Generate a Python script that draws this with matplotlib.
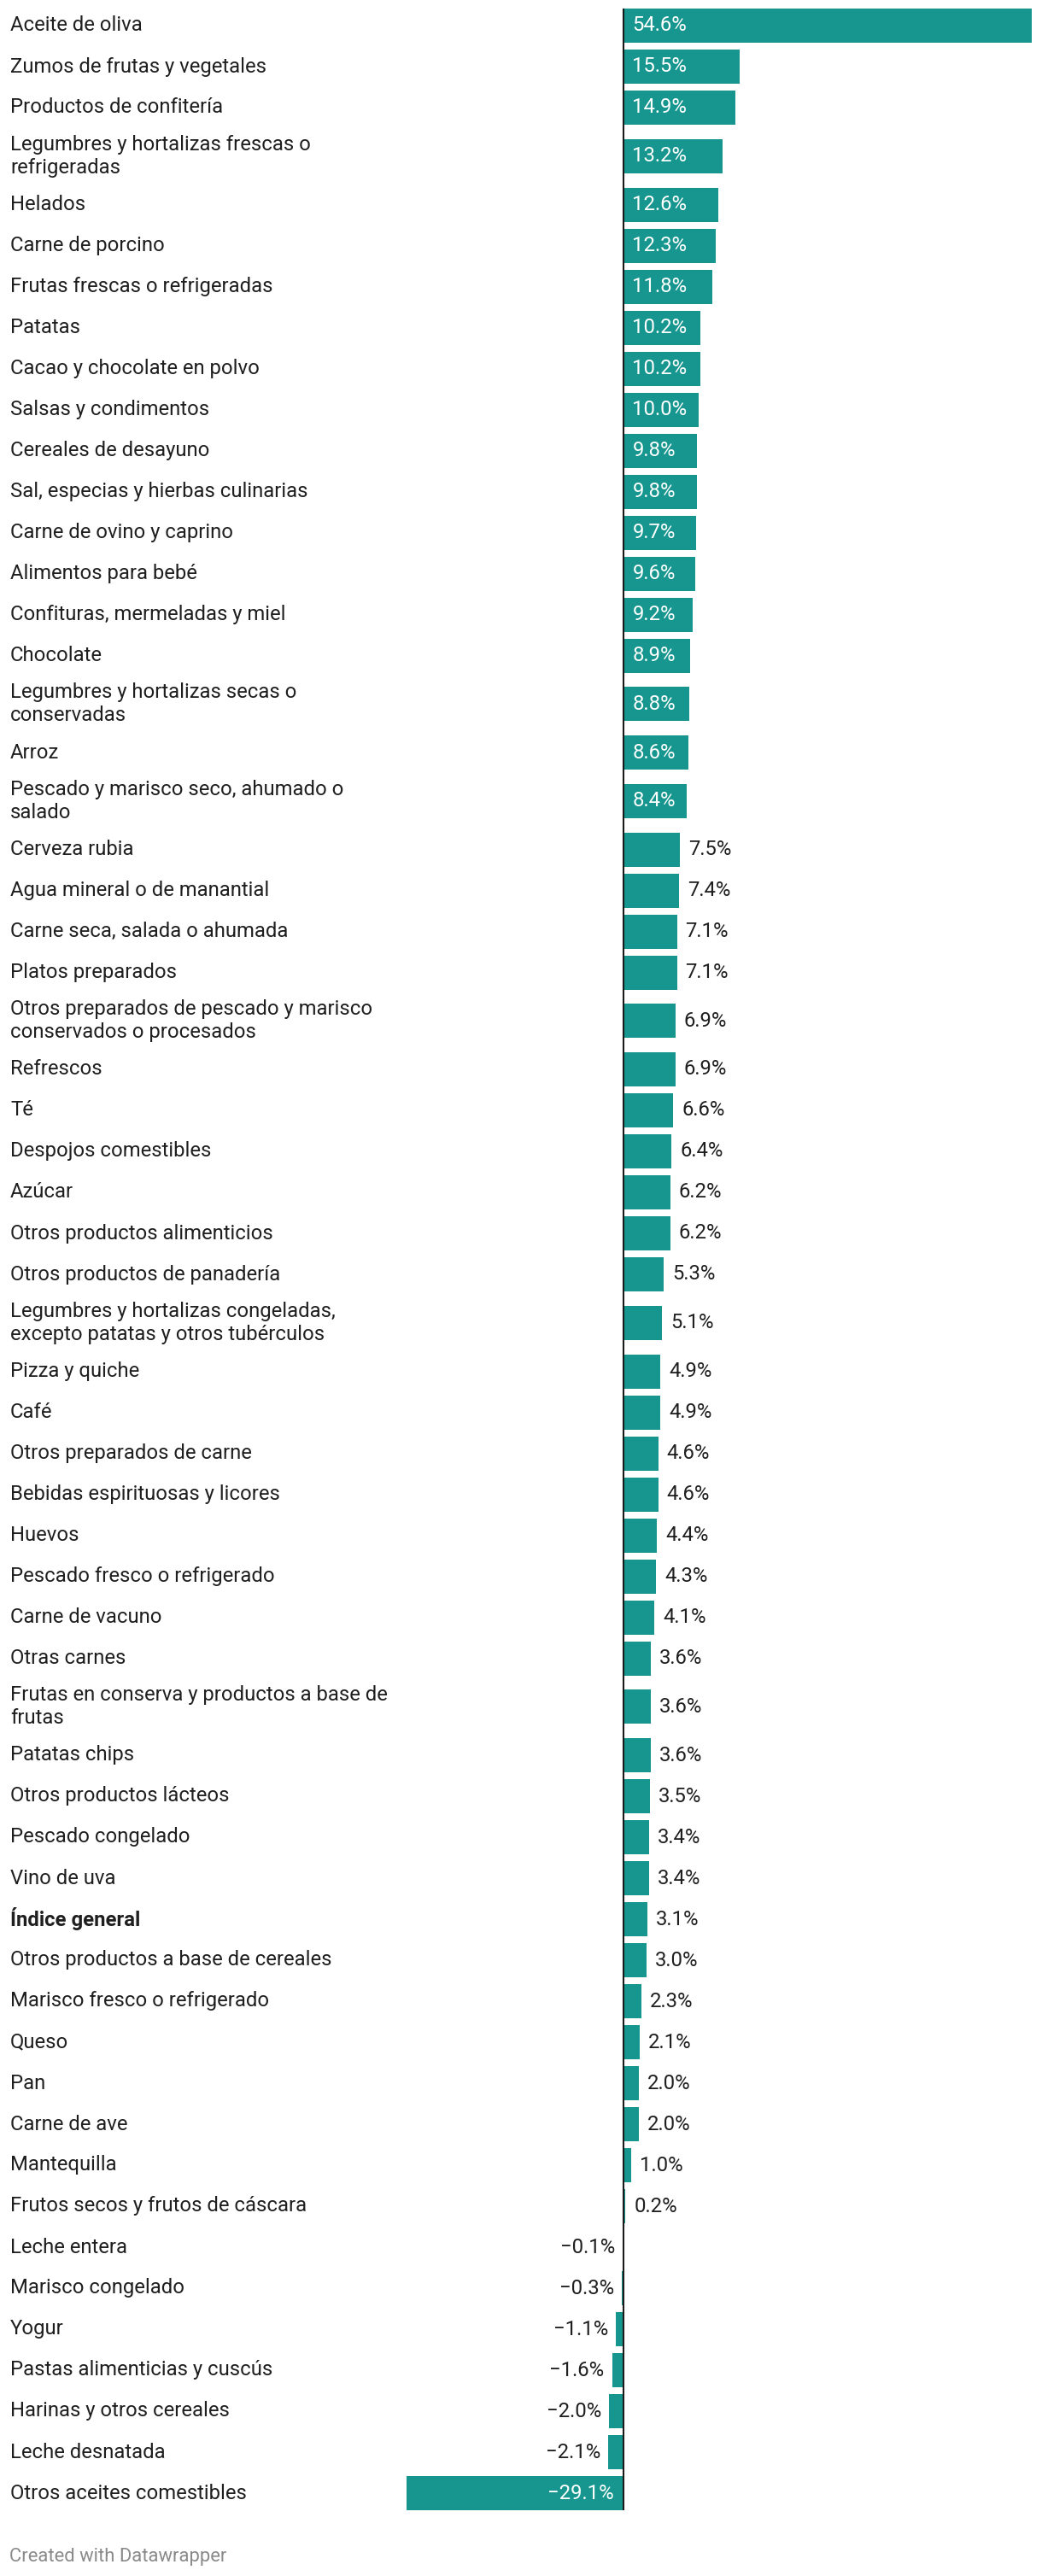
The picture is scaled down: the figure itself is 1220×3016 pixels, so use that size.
import matplotlib.pyplot as plt

plt.rcParams['font.family'] = ['Roboto', 'DejaVu Sans']

labels = [
    "Aceite de oliva",
    "Zumos de frutas y vegetales",
    "Productos de confitería",
    "Legumbres y hortalizas frescas o\nrefrigeradas",
    "Helados",
    "Carne de porcino",
    "Frutas frescas o refrigeradas",
    "Patatas",
    "Cacao y chocolate en polvo",
    "Salsas y condimentos",
    "Cereales de desayuno",
    "Sal, especias y hierbas culinarias",
    "Carne de ovino y caprino",
    "Alimentos para bebé",
    "Confituras, mermeladas y miel",
    "Chocolate",
    "Legumbres y hortalizas secas o\nconservadas",
    "Arroz",
    "Pescado y marisco seco, ahumado o\nsalado",
    "Cerveza rubia",
    "Agua mineral o de manantial",
    "Carne seca, salada o ahumada",
    "Platos preparados",
    "Otros preparados de pescado y marisco\nconservados o procesados",
    "Refrescos",
    "Té",
    "Despojos comestibles",
    "Azúcar",
    "Otros productos alimenticios",
    "Otros productos de panadería",
    "Legumbres y hortalizas congeladas,\nexcepto patatas y otros tubérculos",
    "Pizza y quiche",
    "Café",
    "Otros preparados de carne",
    "Bebidas espirituosas y licores",
    "Huevos",
    "Pescado fresco o refrigerado",
    "Carne de vacuno",
    "Otras carnes",
    "Frutas en conserva y productos a base de\nfrutas",
    "Patatas chips",
    "Otros productos lácteos",
    "Pescado congelado",
    "Vino de uva",
    "Índice general",
    "Otros productos a base de cereales",
    "Marisco fresco o refrigerado",
    "Queso",
    "Pan",
    "Carne de ave",
    "Mantequilla",
    "Frutos secos y frutos de cáscara",
    "Leche entera",
    "Marisco congelado",
    "Yogur",
    "Pastas alimenticias y cuscús",
    "Harinas y otros cereales",
    "Leche desnatada",
    "Otros aceites comestibles",
]

values = [
    54.6, 15.5, 14.9, 13.2, 12.6, 12.3, 11.8, 10.2, 10.2, 10.0,
    9.8, 9.8, 9.7, 9.6, 9.2, 8.9, 8.8, 8.6, 8.4, 7.5,
    7.4, 7.1, 7.1, 6.9, 6.9, 6.6, 6.4, 6.2, 6.2, 5.3,
    5.1, 4.9, 4.9, 4.6, 4.6, 4.4, 4.3, 4.1, 3.6, 3.6,
    3.6, 3.5, 3.4, 3.4, 3.1, 3.0, 2.3, 2.1, 2.0, 2.0,
    1.0, 0.2, -0.1, -0.3, -1.1, -1.6, -2.0, -2.1, -29.1,
]

highlight = "Índice general"

W, H = 1220, 3016
bar_color = "#16968f"
text_color = "#1f1f1f"

fig = plt.figure(figsize=(W / 100, H / 100), dpi=100)
# axes placed so that values map onto the pixel range of the reference
ax = fig.add_axes([476 / W, 0, (1208 - 476) / W, 1])
ax.set_xlim(min(values), max(values))
ax.set_ylim(H, 0)
ax.axis("off")

# row layout in pixels (two-line labels take taller rows)
bar_h = 40
ys = []
pos = 6
for lab in labels:
    rh = 65.5 if "\n" in lab else 48
    ys.append(pos + rh / 2)
    pos += rh

ax.barh(ys, values, height=bar_h, color=bar_color, zorder=2)
ax.plot([0, 0], [ys[0] - bar_h / 2, ys[-1] + bar_h / 2], color="#1a1a1a",
        lw=1.5, zorder=3, solid_capstyle="butt")

fs = 17.2
for lab, v, y in zip(labels, values, ys):
    fig.text(12 / W, 1 - y / H, lab, fontsize=fs, color=text_color, va="center", ha="left",
             fontweight="bold" if lab == highlight else "normal", linespacing=1.2)

    s = f"{v:.1f}%".replace("-", "\u2212")
    inside = abs(v) >= 8
    if v >= 0:
        if inside:
            ax.annotate(s, (0, y), xytext=(10, 0), textcoords="offset pixels",
                        ha="left", va="center", color="white", fontsize=fs, zorder=4)
        else:
            ax.annotate(s, (v, y), xytext=(10, 0), textcoords="offset pixels",
                        ha="left", va="center", color=text_color, fontsize=fs, zorder=4)
    else:
        if inside:
            ax.annotate(s, (0, y), xytext=(-12, 0), textcoords="offset pixels",
                        ha="right", va="center", color="white", fontsize=fs, zorder=4)
        else:
            ax.annotate(s, (v, y), xytext=(-9, 0), textcoords="offset pixels",
                        ha="right", va="center", color=text_color, fontsize=fs, zorder=4)

fig.text(11 / W, 1 - 2993 / H, "Created with Datawrapper", fontsize=15.8, color="#8a8a8a",
         va="center", ha="left")

fig.savefig("out.png", dpi=100)
